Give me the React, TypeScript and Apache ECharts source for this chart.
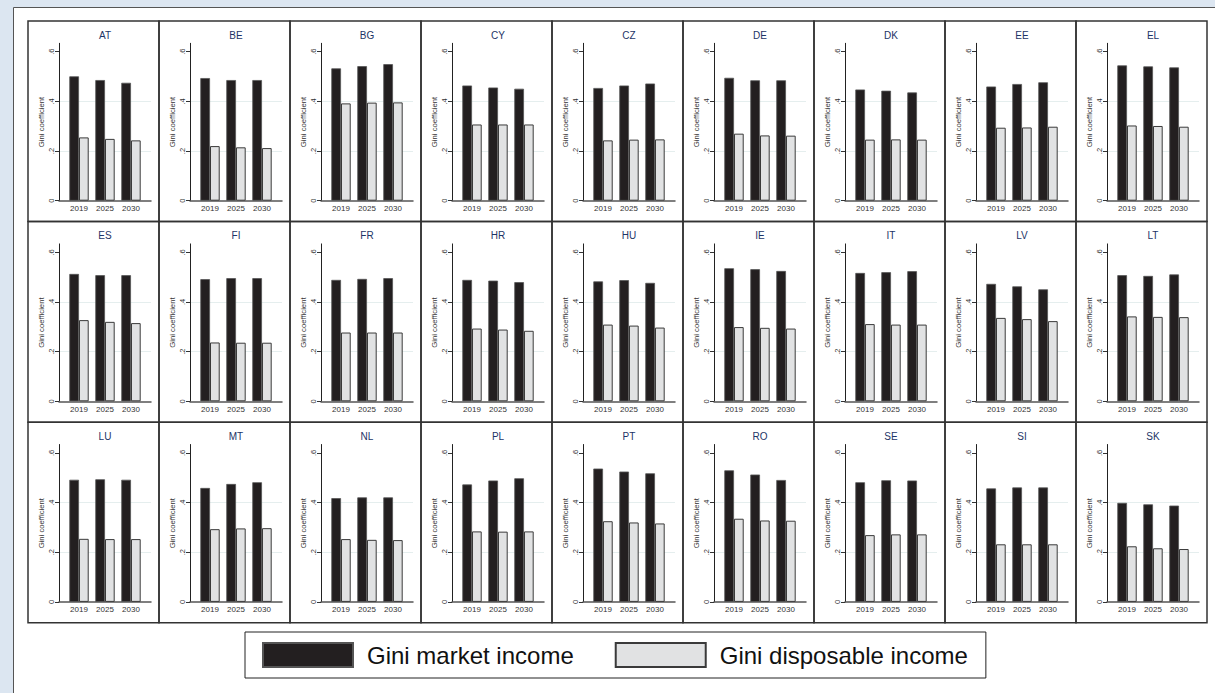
import React, { useEffect, useRef } from "react";
import * as echarts from "echarts";

const countries = [
  "AT", "BE", "BG", "CY", "CZ", "DE", "DK", "EE", "EL",
  "ES", "FI", "FR", "HR", "HU", "IE", "IT", "LV", "LT",
  "LU", "MT", "NL", "PL", "PT", "RO", "SE", "SI", "SK",
];
const years = ["2019", "2025", "2030"];
const yTicks = [0, 0.2, 0.4, 0.6];
const yTickLabels = ["0", ".2", ".4", ".6"];

// Gini market income per country for 2019, 2025, 2030
const marketGini = [
  [0.501, 0.486, 0.475], [0.494, 0.486, 0.486], [0.533, 0.542, 0.550],
  [0.464, 0.456, 0.451], [0.454, 0.464, 0.472], [0.495, 0.485, 0.485],
  [0.448, 0.443, 0.436], [0.460, 0.470, 0.477], [0.545, 0.541, 0.537],
  [0.513, 0.508, 0.508], [0.492, 0.496, 0.496], [0.489, 0.493, 0.496],
  [0.489, 0.486, 0.480], [0.483, 0.488, 0.477], [0.536, 0.532, 0.525],
  [0.517, 0.520, 0.524], [0.473, 0.463, 0.451], [0.508, 0.505, 0.511],
  [0.492, 0.494, 0.492], [0.459, 0.475, 0.482], [0.418, 0.421, 0.421],
  [0.473, 0.489, 0.498], [0.537, 0.525, 0.518], [0.530, 0.513, 0.491],
  [0.482, 0.490, 0.489], [0.457, 0.461, 0.461], [0.399, 0.393, 0.388],
];

// Gini disposable income per country for 2019, 2025, 2030
const disposableGini = [
  [0.255, 0.249, 0.243], [0.220, 0.215, 0.212], [0.392, 0.395, 0.396],
  [0.307, 0.307, 0.307], [0.243, 0.246, 0.247], [0.270, 0.263, 0.262],
  [0.246, 0.247, 0.246], [0.294, 0.295, 0.298], [0.303, 0.301, 0.298],
  [0.327, 0.320, 0.315], [0.237, 0.236, 0.236], [0.277, 0.277, 0.277],
  [0.293, 0.289, 0.284], [0.309, 0.305, 0.297], [0.299, 0.296, 0.293],
  [0.311, 0.309, 0.309], [0.336, 0.331, 0.323], [0.342, 0.340, 0.339],
  [0.254, 0.253, 0.253], [0.293, 0.296, 0.297], [0.253, 0.250, 0.249],
  [0.284, 0.283, 0.284], [0.325, 0.320, 0.316], [0.335, 0.328, 0.327],
  [0.269, 0.272, 0.272], [0.232, 0.232, 0.232], [0.224, 0.216, 0.213],
];

const MARKET = "Gini market income";
const DISPOSABLE = "Gini disposable income";

const COLS = 9;
const PANEL_X0 = 28;
const PANEL_Y0 = 21;
const PANEL_W = 131;
const PANEL_H = 200.6;
const GRID_DX = 31;
const GRID_DY = 22.3;
const GRID_W = 92;
const GRID_H = 157.4;

function buildOption() {
  const grid: any[] = [];
  const xAxis: any[] = [];
  const yAxis: any[] = [];
  const title: any[] = [];
  const series: any[] = [];
  const graphic: any[] = [
    {
      type: "rect",
      z: -10,
      shape: { x: 13.5, y: 7.5, width: 1220, height: 700 },
      style: { fill: "#ffffff", stroke: "#555", lineWidth: 1 },
      silent: true,
    },
  ];

  countries.forEach((c, i) => {
    const col = i % COLS;
    const row = Math.floor(i / COLS);
    const px = PANEL_X0 + col * PANEL_W;
    const py = PANEL_Y0 + row * PANEL_H;

    graphic.push({
      type: "rect",
      z: 10,
      shape: { x: px, y: py, width: PANEL_W, height: PANEL_H },
      style: { fill: "none", stroke: "#333", lineWidth: 1.5 },
      silent: true,
    });

    grid.push({ left: px + GRID_DX, top: py + GRID_DY, width: GRID_W, height: GRID_H });

    title.push({
      text: c,
      left: px + GRID_DX + GRID_W / 2,
      top: py + 9,
      textAlign: "center",
      padding: 0,
      textStyle: { fontSize: 10, fontWeight: "normal", color: "#1d3466", fontFamily: "Liberation Sans" },
    });

    xAxis.push({
      type: "value",
      gridIndex: i,
      min: -0.77,
      max: 2.77,
      axisLine: { show: true, onZero: false, lineStyle: { color: "#555", width: 1.5 } },
      axisTick: { show: false },
      splitLine: { show: false },
      axisLabel: {
        customValues: [0, 1, 2],
        formatter: (v: number) => years[Math.round(v)] ?? "",
        fontSize: 8,
        color: "#333",
        margin: 4,
      },
    });

    yAxis.push({
      type: "value",
      gridIndex: i,
      min: 0,
      max: 0.634,
      interval: 0.2,
      name: "Gini coefficient",
      nameLocation: "middle",
      nameGap: 14,
      nameTextStyle: { fontSize: 7.7, color: "#333" },
      axisLine: { show: true, onZero: false, lineStyle: { color: "#222", width: 1 } },
      axisTick: { show: true, length: 4, customValues: yTicks, lineStyle: { color: "#333" } },
      axisLabel: {
        customValues: yTicks,
        formatter: (v: number) => {
          const k = yTicks.findIndex((t) => Math.abs(t - v) < 1e-6);
          return k >= 0 ? yTickLabels[k] : "";
        },
        rotate: 90,
        fontSize: 7.5,
        color: "#333",
        margin: 4,
      },
      splitLine: {
        show: true,
        showMinLine: false,
        showMaxLine: false,
        lineStyle: { color: "#e5eeee", width: 1 },
      },
    });

    series.push({
      type: "bar",
      name: MARKET,
      xAxisIndex: i,
      yAxisIndex: i,
      barWidth: 9.7,
      barGap: "0%",
      itemStyle: { color: "#231f20", borderColor: "#555", borderWidth: 0.8 },
      data: marketGini[i].map((v, k) => [k, v]),
    });
    series.push({
      type: "bar",
      name: DISPOSABLE,
      xAxisIndex: i,
      yAxisIndex: i,
      barWidth: 9.7,
      barGap: "0%",
      itemStyle: { color: "#e1e2e3", borderColor: "#3a3a3a", borderWidth: 1 },
      data: disposableGini[i].map((v, k) => [k, v]),
    });
  });

  return {
    animation: false,
    backgroundColor: "#dce6f1",
    textStyle: { fontFamily: "Liberation Sans, Arial, sans-serif" },
    title,
    grid,
    xAxis,
    yAxis,
    series,
    graphic,
    legend: {
      data: [MARKET, DISPOSABLE],
      left: 245,
      top: 632,
      orient: "horizontal",
      selectedMode: false,
      icon: "rect",
      itemWidth: 90,
      itemHeight: 24,
      itemGap: 41,
      padding: [10, 18, 10, 17],
      borderColor: "#222",
      borderWidth: 1,
      backgroundColor: "#fff",
      textStyle: { fontSize: 24, color: "#111", padding: [0, 0, 0, 9] },
    },
  };
}

export default function App() {
  const ref = useRef<HTMLDivElement>(null);
  useEffect(() => {
    if (!ref.current) return;
    const chart = echarts.init(ref.current, undefined, { renderer: "svg" });
    chart.setOption(buildOption() as any);
    return () => chart.dispose();
  }, []);
  return (
    <div
      ref={ref}
      style={{ position: "fixed", left: 0, top: 0, width: 1215, height: 693 }}
    />
  );
}
